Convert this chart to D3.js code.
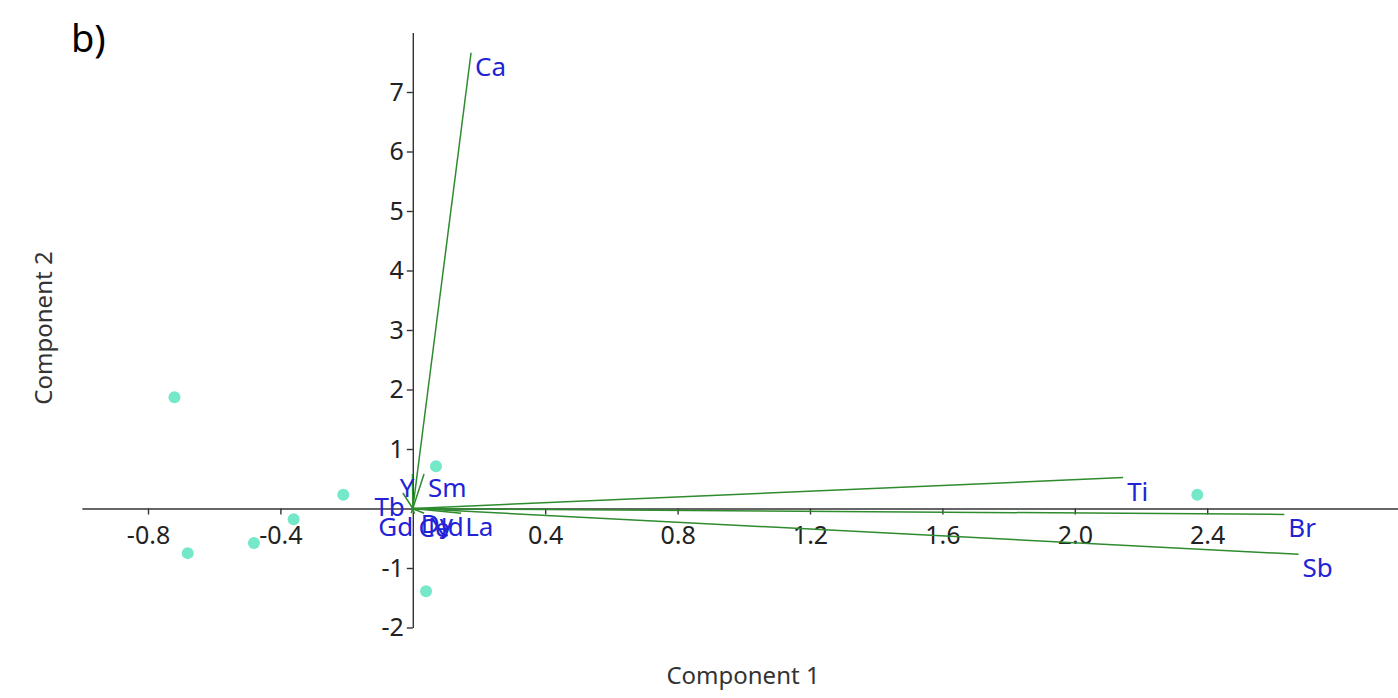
<!DOCTYPE html>
<html>
<head>
<meta charset="utf-8">
<script src="https://cdn.jsdelivr.net/npm/d3@7"></script>
<style>
  body { margin: 0; background: #fff; }
  svg { display: block; font-family: "Noto Sans", sans-serif; }
  .axis path, .axis line { stroke: #333; stroke-width: 1.4; }
  .axis text { font-size: 25px; fill: #222; font-family: "Noto Sans", sans-serif; }
</style>
</head>
<body>
<div id="chart"></div>
<script>
// PCA scores (Component 1, Component 2)
const scoreX = [-0.72, -0.68, -0.48, -0.36, -0.21, 0.07, 0.04, 2.37];
const scoreY = [1.87, -0.75, -0.58, -0.18, 0.23, 0.71, -1.39, 0.23];

// loading vectors
const varNames = ['Ca', 'Ti', 'Br', 'Sb', 'Y', 'Sm', 'Tb', 'Gd', 'Ce', 'Dy', 'Nd', 'La'];
const loadX    = [0.176, 2.146, 2.633, 2.676, -0.001, 0.034, -0.03, -0.005, 0.005, 0.012, 0.034, 0.146];
const loadY    = [7.66, 0.52, -0.10, -0.77, 0.58, 0.58, 0.26, -0.08, -0.09, -0.03, -0.08, -0.08];

const xTicks = [-0.8, -0.4, 0.4, 0.8, 1.2, 1.6, 2.0, 2.4];
const yTicks = [-2, -1, 1, 2, 3, 4, 5, 6, 7];

const W = 1398, H = 698;

const x = d3.scaleLinear().domain([-1, 3]).range([81.8, 1405.8]);
const y = d3.scaleLinear().domain([-2, 8]).range([627.5, 32.5]);

const svg = d3.select('#chart').append('svg')
    .attr('width', W)
    .attr('height', H);

// axes cross at the origin
svg.append('g')
    .attr('class', 'axis')
    .attr('transform', `translate(0,${y(0)})`)
    .call(d3.axisBottom(x).tickValues(xTicks).tickFormat(d => d.toFixed(1))
      .tickSize(6).tickSizeOuter(0).tickPadding(12));

svg.append('g')
    .attr('class', 'axis')
    .attr('transform', `translate(${x(0)},0)`)
    .call(d3.axisLeft(y).tickValues(yTicks).tickFormat(d => String(d))
      .tickSize(6).tickSizeOuter(0).tickPadding(3));

// loading lines
const vecs = varNames.map((n, i) => ({ name: n, x: loadX[i], y: loadY[i] }));

svg.append('g')
  .selectAll('line')
  .data(vecs)
  .join('line')
    .attr('x1', x(0))
    .attr('y1', y(0))
    .attr('x2', d => x(d.x))
    .attr('y2', d => y(d.y))
    .attr('stroke', '#2e8b2e')
    .attr('stroke-width', 1.5);

// scores
svg.append('g')
  .selectAll('circle')
  .data(scoreX.map((v, i) => ({ x: v, y: scoreY[i] })))
  .join('circle')
    .attr('cx', d => x(d.x))
    .attr('cy', d => y(d.y))
    .attr('r', 6)
    .attr('fill', '#74e8c8');

// vector labels: right of the tip, or left of it for negative loadings
svg.append('g')
  .selectAll('text')
  .data(vecs)
  .join('text')
    .attr('x', d => x(d.x) + (d.x < 0 ? 2 : 4))
    .attr('y', d => y(d.y) + 23)
    .attr('text-anchor', d => d.x < 0 ? 'end' : 'start')
    .attr('font-size', 26)
    .attr('fill', '#2323d6')
    .text(d => d.name);

// axis titles
svg.append('text')
    .attr('x', 743)
    .attr('y', 684)
    .attr('text-anchor', 'middle')
    .attr('font-size', 24)
    .attr('fill', '#333')
    .text('Component 1');

svg.append('text')
    .attr('transform', 'translate(52,328) rotate(-90)')
    .attr('text-anchor', 'middle')
    .attr('font-size', 24)
    .attr('fill', '#333')
    .text('Component 2');

// panel tag
svg.append('text')
    .attr('x', 71)
    .attr('y', 52)
    .attr('font-size', 38)
    .attr('fill', '#000')
    .text('b)');
</script>
</body>
</html>
